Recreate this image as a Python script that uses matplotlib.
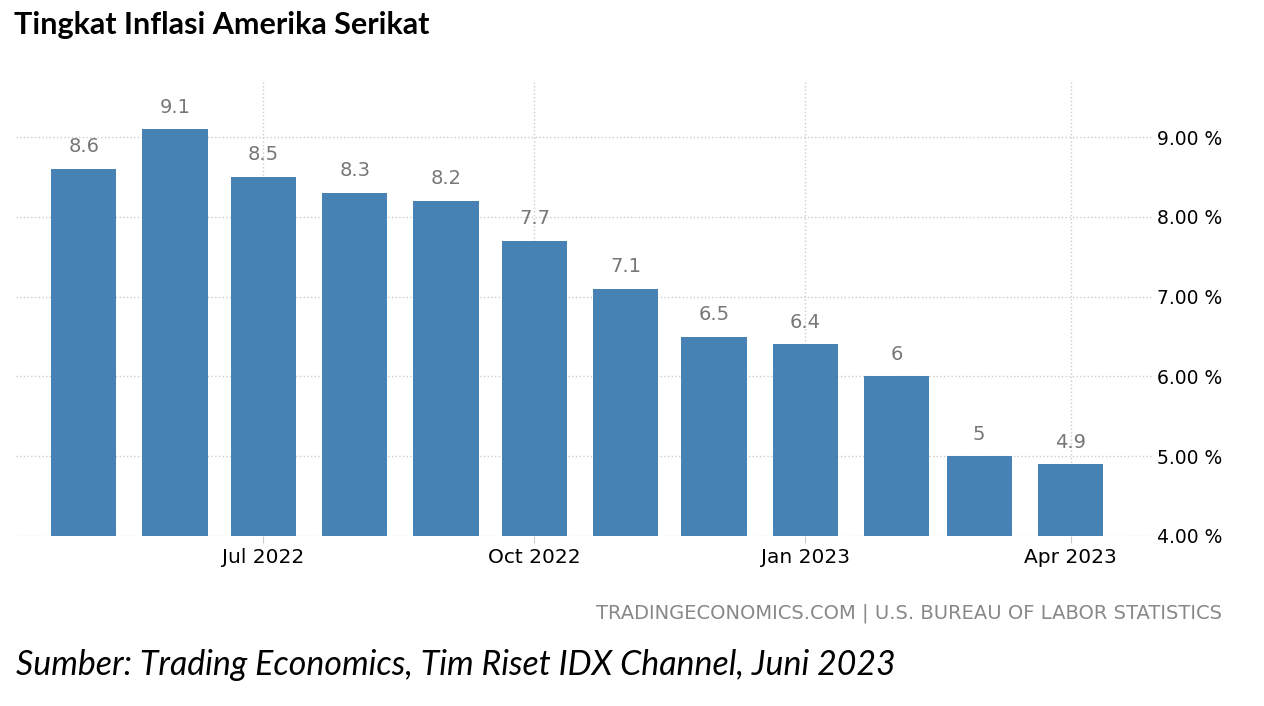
import datetime as dt
import matplotlib
matplotlib.use('Agg')
import matplotlib.pyplot as plt
import matplotlib.dates as mdates

months = [dt.date(2022, m, 1) for m in range(5, 13)] + [dt.date(2023, m, 1) for m in range(1, 5)]
values = [8.6, 9.1, 8.5, 8.3, 8.2, 7.7, 7.1, 6.5, 6.4, 6.0, 5.0, 4.9]
value_labels = ['8.6', '9.1', '8.5', '8.3', '8.2', '7.7', '7.1', '6.5', '6.4', '6', '5', '4.9']
tick_dates = [dt.date(2022, 7, 1), dt.date(2022, 10, 1), dt.date(2023, 1, 1), dt.date(2023, 4, 1)]
tick_labels = ['Jul 2022', 'Oct 2022', 'Jan 2023', 'Apr 2023']
y_ticks = [4, 5, 6, 7, 8, 9]

fig = plt.figure(figsize=(12.64, 7.06), dpi=100)
ax = fig.add_axes([0.0127, 0.2408, 0.8995, 0.6431])

bars = ax.bar(months, [v - 4 for v in values], bottom=4, width=22.2,
              color='#4682b4', zorder=2)
for d, v, s in zip(months, values, value_labels):
    ax.annotate(s, (mdates.date2num(d), v), xytext=(0, 9), textcoords='offset points',
                ha='center', va='bottom', fontsize=14, color='#777777', zorder=3)

ax.set_xlim(dt.date(2022, 4, 8), dt.date(2023, 4, 29))
ax.set_ylim(4, 9.69)
ax.set_xticks(tick_dates)
ax.set_xticklabels(tick_labels, fontsize=14.5)
ax.set_yticks(y_ticks)
ax.set_yticklabels([f'{t:.2f} %' for t in y_ticks], fontsize=13.5)
ax.yaxis.tick_right()
ax.tick_params(axis='y', length=0, pad=3)
ax.tick_params(axis='x', length=5, color='#cccccc', pad=4)
for sp in ax.spines.values():
    sp.set_visible(False)
ax.grid(True, color='#cccccc', linestyle=':', linewidth=1, zorder=0)
ax.set_axisbelow(True)

fig.text(14/1264, 1 - 25/706, 'Tingkat Inflasi Amerika Serikat', fontsize=22,
         fontweight='bold', family='Lato', va='center', ha='left')
fig.text(1222/1264, 1 - 613/706, 'TRADINGECONOMICS.COM | U.S. BUREAU OF LABOR STATISTICS',
         fontsize=14, color='#888888', va='center', ha='right')
fig.text(16/1264, 1 - 665/706, 'Sumber: Trading Economics, Tim Riset IDX Channel, Juni 2023',
         fontsize=24.4, style='italic', family='Lato', va='center', ha='left')

fig.savefig('out.png', dpi=100)
